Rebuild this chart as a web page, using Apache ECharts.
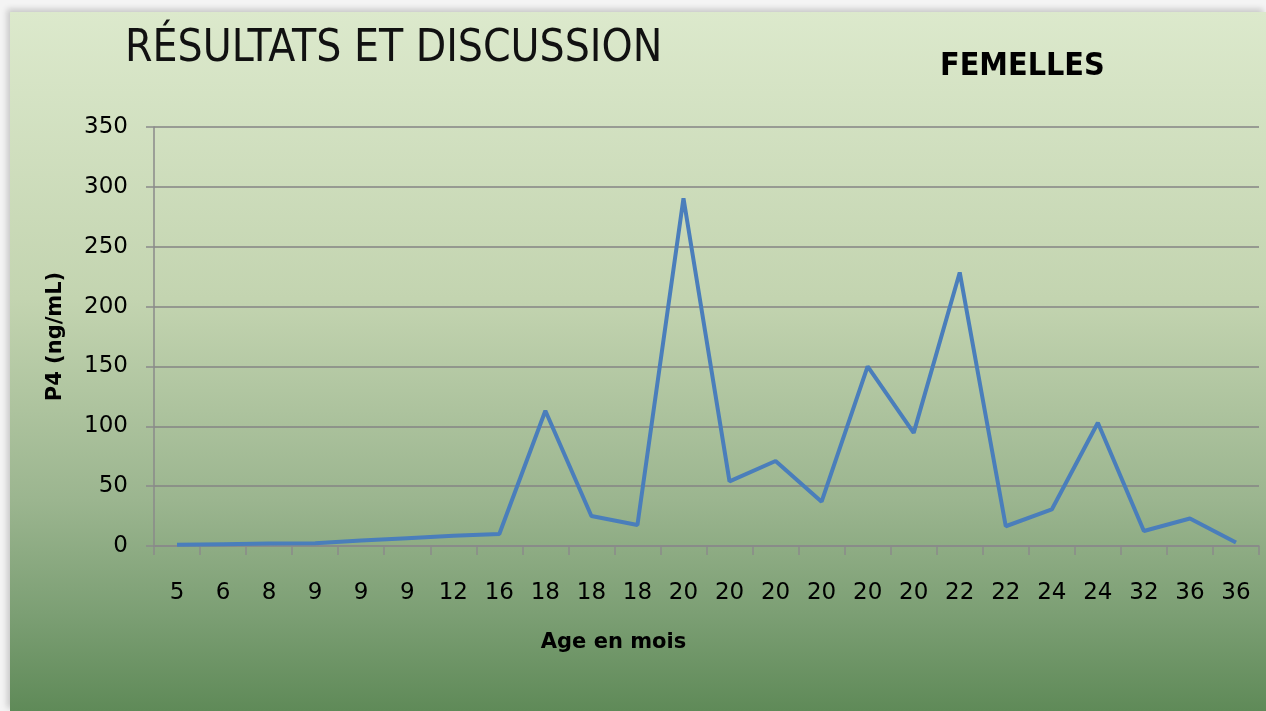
<!DOCTYPE html>
<html>
<head>
<meta charset="utf-8">
<script src="https://cdn.jsdelivr.net/npm/echarts@6/dist/echarts.min.js"></script>
<style>
  html, body { margin: 0; padding: 0; background: #f4f4f4; }
  #chart_div {
    position: absolute; left: 10px; top: 12px; width: 1256px; height: 699px;
    box-shadow: -3px -3px 6px rgba(0,0,0,0.18);
  }
</style>
</head>
<body>
<div id="chart_div"></div>
<script>
// Age (months) per sample, and P4 level in ng/mL
var ages = ["5", "6", "8", "9", "9", "9", "12", "16", "18", "18", "18", "20",
  "20", "20", "20", "20", "20", "22", "22", "24", "24", "32", "36", "36"];
var p4 = [1, 1.5, 2, 2.2, 4.5, 6.5, 8.5, 10, 113, 25, 17.5, 290.5,
  54, 71, 37, 150, 94.5, 228.5, 16.5, 30.5, 103, 12.5, 23, 3];
var yTicks = [0, 350, 50]; // min, max, interval

var myChart = echarts.init(document.getElementById("chart_div"));
var font = "DejaVu Sans";
var option = {
  animation: false,
  backgroundColor: new echarts.graphic.LinearGradient(0, 0, 0, 1, [
    { offset: 0, color: "#dce9cc" },
    { offset: 0.41, color: "#c3d4b0" },
    { offset: 0.7, color: "#9bb58f" },
    { offset: 0.86, color: "#7c9f74" },
    { offset: 1, color: "#5f8a58" }
  ]),
  title: [
    {
      text: "RÉSULTATS ET DISCUSSION",
      left: 110,
      top: 11,
      textStyle: { fontFamily: "DejaVu Sans Condensed", fontWeight: "normal", fontSize: 44, color: "#111" }
    },
    {
      text: "FEMELLES",
      left: 925,
      top: 34,
      textStyle: { fontFamily: "DejaVu Sans Condensed", fontWeight: "bold", fontSize: 32, color: "#000" }
    }
  ],
  grid: { left: 144, right: 7, top: 115, bottom: 165 },
  xAxis: {
    type: "category",
    data: ages,
    boundaryGap: true,
    name: "Age en mois",
    nameLocation: "middle",
    nameGap: 86,
    nameTextStyle: { fontFamily: font, fontWeight: "bold", fontSize: 21, color: "#000", padding: [0, 186, 0, 0] },
    axisLine: { lineStyle: { color: "#8a8a8a", width: 1.5 } },
    axisTick: { show: true, length: 9, lineStyle: { color: "#8a8a8a", width: 1.5 } },
    axisLabel: { interval: 0, margin: 36, fontFamily: font, fontSize: 23, color: "#000" }
  },
  yAxis: {
    type: "value",
    min: yTicks[0],
    max: yTicks[1],
    interval: yTicks[2],
    name: "P4 (ng/mL)",
    nameLocation: "middle",
    nameGap: 88,
    nameRotate: 90,
    nameTextStyle: { fontFamily: font, fontWeight: "bold", fontSize: 21, color: "#000" },
    axisLine: { show: true, lineStyle: { color: "#8a8a8a", width: 1.5 } },
    axisTick: { show: true, length: 8, lineStyle: { color: "#8a8a8a", width: 1.5 } },
    axisLabel: { margin: 26, fontFamily: font, fontSize: 23, color: "#000" },
    splitLine: { lineStyle: { color: "#848484", width: 1.5 } }
  },
  series: [
    {
      type: "line",
      data: p4,
      showSymbol: false,
      symbol: "none",
      lineStyle: { color: "#4a7ebb", width: 4 },
      itemStyle: { color: "#4a7ebb" }
    }
  ]
};
myChart.setOption(option);
</script>
</body>
</html>
